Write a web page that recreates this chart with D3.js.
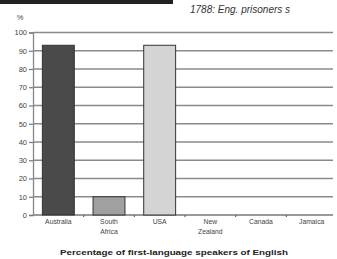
<!DOCTYPE html>
<html>
<head>
<meta charset="utf-8">
<script src="https://cdn.jsdelivr.net/npm/d3@7"></script>
<style>
	body { margin: 0; background: #fff; }
	svg { display: block; font-family: "Liberation Sans", Arial, sans-serif; }
</style>
</head>
<body>
<div id="chart"></div>
<script>
var width = 337;
var height = 259;

// data
var countries = ["Australia", "South Africa", "USA", "New Zealand", "Canada", "Jamaica"];
var labelLines = [["Australia"], ["South", "Africa"], ["USA"], ["New", "Zealand"], ["Canada"], ["Jamaica"]];
var percents = [93, 10, 93, null, null, null];
var barFills = ["#4a4a4a", "#a0a0a0", "#d4d4d4", "#ccc", "#ccc", "#ccc"];
var yTicks = [0, 10, 20, 30, 40, 50, 60, 70, 80, 90, 100];

var margin = { left: 33, right: 0, top: 32.5, bottom: 44 };

var svg = d3.select("#chart")
	.append("svg")
		.attr("width", width)
		.attr("height", height)
	;

var x = d3.scaleBand()
	.domain(countries)
	.range([margin.left, width - margin.right])
	.paddingInner(0.37)
	.paddingOuter(0.185)
	;

var y = d3.scaleLinear()
	.domain([0, 100])
	.range([height - margin.bottom, margin.top])
	;

// header strip + cut-off title
svg.append("rect")
	.attr("x", 0).attr("y", 0)
	.attr("width", 173).attr("height", 4)
	.attr("fill", "#222");

svg.append("text")
	.attr("x", 190).attr("y", 13)
	.attr("font-size", 10)
	.attr("font-style", "italic")
	.attr("fill", "#333")
	.text("1788: Eng. prisoners s");

// gridlines
svg.append("g")
	.selectAll("line")
	.data(yTicks)
	.enter()
		.append("line")
			.attr("x1", margin.left)
			.attr("x2", 333)
			.attr("y1", d => y(d))
			.attr("y2", d => y(d))
			.attr("stroke", d => d === 0 ? "#777" : "#8a8a8a")
			.attr("stroke-width", 1.3)
	;

// y axis
var yAxis = svg.append("g")
	.attr("transform", "translate(" + margin.left + ",0)")
	.call(d3.axisLeft(y).tickValues(yTicks).tickSize(4).tickPadding(2))
	;
yAxis.select(".domain").attr("stroke", "#888").attr("stroke-width", 1.3);
yAxis.selectAll(".tick line").attr("stroke", "#777").attr("stroke-width", 1.2);
yAxis.selectAll(".tick text")
	.attr("font-size", 7.5)
	.attr("font-family", "Liberation Sans, Arial, sans-serif")
	.attr("fill", "#444");

svg.append("text")
	.attr("x", 20).attr("y", 20)
	.attr("text-anchor", "middle")
	.attr("font-size", 7.5)
	.attr("fill", "#444")
	.text("%");

// small ticks between categories on the baseline
var step = x.step();
svg.append("g")
	.selectAll("line")
	.data(countries.slice(1))
	.enter()
		.append("line")
			.attr("x1", d => x(d) - step * x.paddingInner() / 2)
			.attr("x2", d => x(d) - step * x.paddingInner() / 2)
			.attr("y1", y(0))
			.attr("y2", y(0) + 2)
			.attr("stroke", "#666")
			.attr("stroke-width", 1.2)
	;

// bars
svg.append("g")
	.selectAll("rect")
	.data(countries.map((c, i) => ({ c: c, v: percents[i], fill: barFills[i] })).filter(d => d.v != null))
	.enter()
		.append("rect")
			.attr("x", d => x(d.c))
			.attr("y", d => y(d.v))
			.attr("width", x.bandwidth())
			.attr("height", d => y(0) - y(d.v))
			.attr("fill", d => d.fill)
			.attr("stroke", "#333")
			.attr("stroke-width", 1)
	;

// category labels
var cat = svg.append("g")
	.selectAll("text")
	.data(countries)
	.enter()
		.append("text")
			.attr("x", d => x(d) + x.bandwidth() / 2)
			.attr("y", y(0) + 9)
			.attr("text-anchor", "middle")
			.attr("font-size", 6.8)
			.attr("fill", "#444")
	;
cat.each(function(d, i) {
	var t = d3.select(this);
	labelLines[i].forEach(function(line, k) {
		t.append("tspan")
			.attr("x", x(d) + x.bandwidth() / 2)
			.attr("dy", k === 0 ? 0 : 9.5)
			.text(line);
	});
});

// caption
svg.append("text")
	.attr("x", 174).attr("y", 255)
	.attr("text-anchor", "middle")
	.attr("font-size", 8)
	.attr("font-weight", "bold")
	.attr("fill", "#222")
	.attr("textLength", 228)
	.attr("lengthAdjust", "spacingAndGlyphs")
	.text("Percentage of first-language speakers of English");
</script>
</body>
</html>
